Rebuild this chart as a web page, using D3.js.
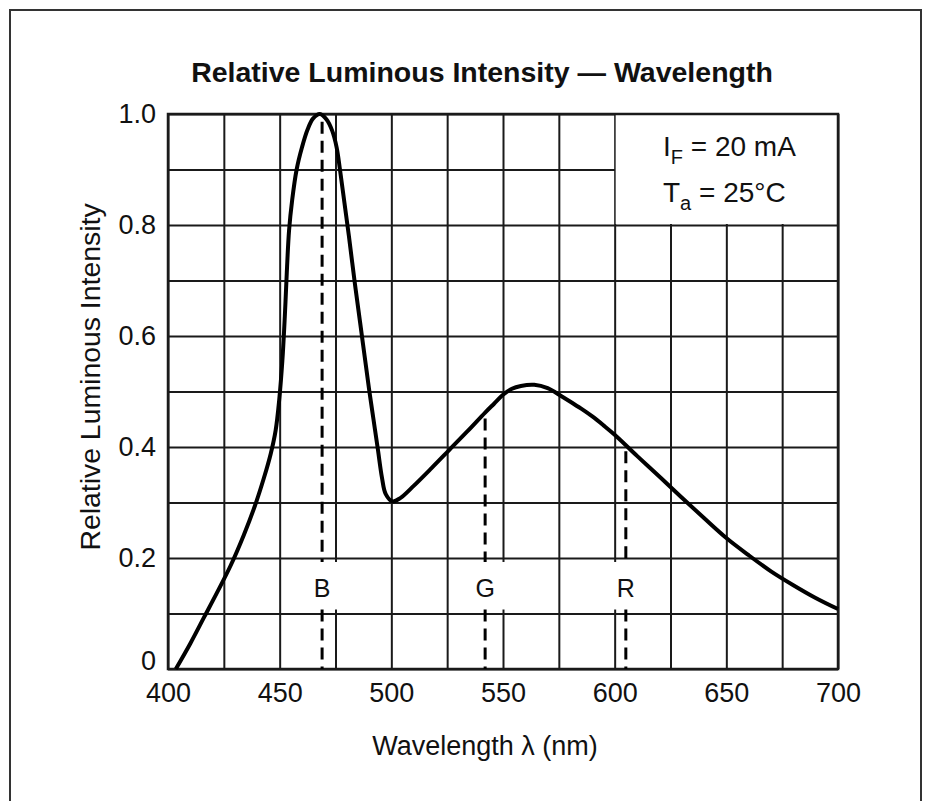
<!DOCTYPE html>
<html lang="en">
<head>
<meta charset="UTF-8">
<title>Relative Luminous Intensity - Wavelength</title>
<script src="https://cdn.jsdelivr.net/npm/d3@7"></script>
<style>
  body { margin: 0; background: #fff; }
  svg { display: block; font-family: "Liberation Sans", Arial, Helvetica, sans-serif; }
</style>
</head>
<body>
<svg width="925" height="801"></svg>
<script>
// curve: wavelength (nm) -> relative intensity
var wavelength = [403.5, 410, 416, 422, 428, 434, 439, 443, 446, 448.2, 449.8, 451.2, 452.3, 453.2,
    454.2, 455.6, 457.6, 460, 462.5, 465, 468, 471, 473.5, 475.5, 477, 479, 481, 483.5,
    486, 488, 490, 492, 494, 495.8, 497.5, 500.5, 504, 510, 518, 526, 534, 542, 546,
    550, 554, 558, 564, 570, 576, 580, 585, 590, 595, 600, 610, 620, 630, 640, 650, 660,
    670, 680, 690, 700];
var intensity = [0, 0.046, 0.092, 0.138, 0.186, 0.242, 0.295, 0.345, 0.388, 0.43, 0.485, 0.555, 0.635, 0.715,
    0.79, 0.845, 0.90, 0.94, 0.972, 0.992, 1.0, 0.99, 0.97, 0.94, 0.90, 0.84, 0.78, 0.70,
    0.625, 0.565, 0.505, 0.45, 0.395, 0.345, 0.315, 0.302, 0.308, 0.33, 0.362, 0.395, 0.428, 0.462, 0.478,
    0.494, 0.505, 0.51, 0.512, 0.506, 0.492, 0.482, 0.469, 0.455, 0.439, 0.422, 0.384, 0.347, 0.309,
    0.272, 0.236, 0.205, 0.176, 0.151, 0.128, 0.108];

var xTicks = [400, 450, 500, 550, 600, 650, 700];
var yTicks = [0, 0.2, 0.4, 0.6, 0.8, 1.0];
var yTickLabels = ["0", "0.2", "0.4", "0.6", "0.8", "1.0"];

// dominant wavelengths of the three chips
var chipNames = ["B", "G", "R"];
var chipWavelength = [469, 542, 605];

var svg = d3.select("svg");
var x = d3.scaleLinear().domain([400, 700]).range([168, 838]);
var y = d3.scaleLinear().domain([0, 1]).range([669, 114]);
var ink = "#1a1a1a";
var fontSize = 27;

svg.append("rect")
    .attr("x", 10).attr("y", 10).attr("width", 911).attr("height", 800)
    .attr("fill", "#fff").attr("stroke", "#333").attr("stroke-width", 2);

// grid, every 25 nm and every 0.1
var gx = svg.append("g")
    .attr("transform", "translate(0," + y(0) + ")")
    .call(d3.axisBottom(x).tickValues(d3.range(400, 701, 25)).tickSize(-(y(0) - y(1))).tickFormat(""));
var gy = svg.append("g")
    .attr("transform", "translate(" + x(400) + ",0)")
    .call(d3.axisLeft(y).tickValues(d3.range(0, 11).map(function(i) { return i / 10; }))
        .tickSize(-(x(700) - x(400))).tickFormat(""));
[gx, gy].forEach(function(g) {
    g.select(".domain").remove();
    g.selectAll("line").attr("stroke", ink).attr("stroke-width", 2);
});

// white box for the test conditions
svg.append("rect")
    .attr("x", x(600) + 1).attr("y", y(1) + 1)
    .attr("width", x(700) - x(600) - 2).attr("height", y(0.8) - y(1) - 2)
    .attr("fill", "#fff");

// white boxes behind the chip letters
var boxTop = y(0.2) + 4, boxBottom = y(0.1) - 4;
svg.selectAll(".chipbox").data(chipWavelength).enter().append("rect")
    .attr("x", function(d) { return x(d) - 25; })
    .attr("y", boxTop)
    .attr("width", 50)
    .attr("height", boxBottom - boxTop)
    .attr("fill", "#fff");

// frame
svg.append("rect")
    .attr("x", x(400)).attr("y", y(1))
    .attr("width", x(700) - x(400)).attr("height", y(0) - y(1))
    .attr("fill", "none").attr("stroke", ink).attr("stroke-width", 2.5);

// value of the curve at a wavelength, for where the dashed lines start
function curveAt(w) {
    var i = d3.bisectLeft(wavelength, w);
    var t = (w - wavelength[i - 1]) / (wavelength[i] - wavelength[i - 1]);
    return intensity[i - 1] + t * (intensity[i] - intensity[i - 1]);
}

chipWavelength.forEach(function(w, i) {
    var top = y(curveAt(w)) + 6;
    [[top, boxTop], [boxBottom, y(0)]].forEach(function(seg) {
        svg.append("line")
            .attr("x1", x(w)).attr("x2", x(w))
            .attr("y1", seg[0]).attr("y2", seg[1])
            .attr("stroke", "#000").attr("stroke-width", 3)
            .attr("stroke-dasharray", "12,7");
    });
    svg.append("text")
        .attr("x", x(w)).attr("y", boxBottom - 13)
        .attr("text-anchor", "middle")
        .attr("font-size", 25).attr("fill", "#111")
        .text(chipNames[i]);
});

var line = d3.line()
    .x(function(d) { return x(d[0]); })
    .y(function(d) { return y(d[1]); })
    .curve(d3.curveCatmullRom.alpha(0.5));

svg.append("path")
    .datum(d3.zip(wavelength, intensity))
    .attr("d", line)
    .attr("fill", "none").attr("stroke", "#000").attr("stroke-width", 4)
    .attr("stroke-linejoin", "round");

// tick labels
var ax = svg.append("g")
    .attr("transform", "translate(0," + y(0) + ")")
    .call(d3.axisBottom(x).tickValues(xTicks).tickSize(0).tickPadding(14));
var ay = svg.append("g")
    .attr("transform", "translate(" + x(400) + ",0)")
    .call(d3.axisLeft(y).tickValues(yTicks).tickSize(0).tickPadding(12)
        .tickFormat(function(d, i) { return yTickLabels[i]; }));
[ax, ay].forEach(function(g) {
    g.select(".domain").remove();
    g.selectAll("text").attr("font-size", fontSize).attr("fill", "#111")
        .attr("font-family", "Liberation Sans, Arial, sans-serif");
});
ay.selectAll("text").filter(function(d) { return d === 0; }).attr("dy", "0.02em");

// titles
svg.append("text")
    .attr("x", 482).attr("y", 82)
    .attr("text-anchor", "middle")
    .attr("font-size", 28.5).attr("font-weight", "bold").attr("fill", "#111")
    .text("Relative Luminous Intensity \u2014 Wavelength");

svg.append("text")
    .attr("x", 485).attr("y", 755)
    .attr("text-anchor", "middle")
    .attr("font-size", 27).attr("fill", "#111")
    .text("Wavelength  \u03bb  (nm)");

svg.append("text")
    .attr("transform", "translate(100,377) rotate(-90)")
    .attr("text-anchor", "middle")
    .attr("font-size", 28.4).attr("fill", "#111")
    .text("Relative Luminous Intensity");

// test conditions
var cond = [["I", "F", " = 20 mA", 156], ["T", "a", " = 25\u00b0C", 202]];
cond.forEach(function(c) {
    var t = svg.append("text")
        .attr("x", 663).attr("y", c[3])
        .attr("font-size", 28).attr("fill", "#111");
    t.append("tspan").text(c[0]);
    t.append("tspan").attr("font-size", 20).attr("dy", 8).text(c[1]);
    t.append("tspan").attr("dy", -8).text(c[2]);
});
</script>
</body>
</html>
